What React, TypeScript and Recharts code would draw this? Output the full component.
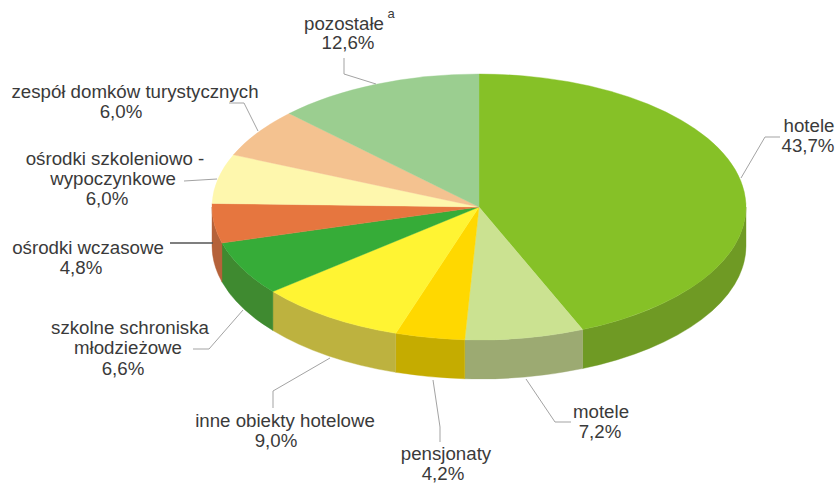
import React from "react";
import { PieChart, Pie } from "recharts";

const names = [
  "hotele",
  "motele",
  "pensjonaty",
  "inne obiekty hotelowe",
  "szkolne schroniska|młodzieżowe",
  "ośrodki wczasowe",
  "ośrodki szkoleniowo -|wypoczynkowe",
  "zespół domków turystycznych",
  "pozostałe",
];
const shares = [43.7, 7.2, 4.2, 9.0, 6.6, 4.8, 6.0, 6.0, 12.6];

const topColors = ["#86C127", "#CBE291", "#FFD800", "#FFF433", "#36AC38", "#E6763F", "#FEF7AD", "#F4C290", "#9BCE90"];
const sideColors = ["#6F9A24", "#9CAA72", "#C5AC00", "#BDB23F", "#3F8A30", "#B5623A", "#D8D08E", "#CFA478", "#82AE7A"];

// centre x and baseline y of every text row, per slice (name rows, then the percent)
const textRows: number[][][] = [
  [[809, 132], [808, 152]],
  [[601, 418], [600, 438]],
  [[446, 460], [443, 480]],
  [[285, 427], [276, 447]],
  [[130, 334], [128, 354], [123, 375]],
  [[88, 254], [81, 274]],
  [[115, 165], [113, 185], [107, 205]],
  [[135, 98], [121, 118]],
  [[344, 30], [348, 49]],
];
const leaders = [
  "741,178 765,137 780,137",
  "526,379 555,422 571,422",
  "433,380 440,427 440,442",
  "273,408 273,391 330,358",
  "193,349 209,349 243,310",
  "170,243 213,243",
  "184,181 217,179",
  "229,103 244,103 258,131",
  "344,58 344,74 376,84",
];

const CX = 479;
const CY = 207;
const RX = 267;
const RY = 133;
const DEPTH = 39;
const FONT = "'Liberation Sans', Arial, sans-serif";

const data = names.map((name, i) => ({ name, value: shares[i] }));

function pt(deg: number, dy = 0) {
  const a = (deg * Math.PI) / 180;
  return `${CX + RX * Math.cos(a)} ${CY + dy - RY * Math.sin(a)}`;
}

// squashes the circular sector the Pie computed into the tilted ellipse
function TopSlice(props: any) {
  const { startAngle, endAngle, index } = props;
  const large = startAngle - endAngle > 180 ? 1 : 0;
  const d = `M${CX} ${CY} L${pt(startAngle)} A${RX} ${RY} 0 ${large} 1 ${pt(endAngle)} Z`;
  return <path d={d} fill={topColors[index]} stroke={topColors[index]} strokeWidth={0.4} />;
}

// outer wall, only for the part of the slice on the near half of the ellipse
function SideSlice(props: any) {
  const { startAngle, endAngle, index } = props;
  const s = Math.min(startAngle, 0);
  const e = Math.max(endAngle, -180);
  if (s <= e) return <g />;
  const d =
    `M${pt(s)} A${RX} ${RY} 0 0 1 ${pt(e)} ` +
    `L${pt(e, DEPTH)} A${RX} ${RY} 0 0 0 ${pt(s, DEPTH)} Z`;
  return <path d={d} fill={sideColors[index]} stroke={sideColors[index]} strokeWidth={0.4} />;
}

function SliceLabel(props: any) {
  const { index } = props;
  const rows = [...names[index].split("|"), `${shares[index].toFixed(1).replace(".", ",")}%`];
  const dark = names[index] === "ośrodki wczasowe";
  return (
    <g>
      <polyline
        points={leaders[index]}
        fill="none"
        stroke={dark ? "#555555" : "#A3A3A3"}
        strokeWidth={dark ? 1.6 : 1}
      />
      {rows.map((row, r) => (
        <text
          key={r}
          x={textRows[index][r][0]}
          y={textRows[index][r][1]}
          textAnchor="middle"
          fontFamily={FONT}
          fontSize={18.7}
          fill="#3A3A3A"
        >
          {row}
        </text>
      ))}
      {names[index] === "pozostałe" && (
        <text x={391} y={18} textAnchor="middle" fontFamily={FONT} fontSize={13} fill="#3A3A3A">
          a
        </text>
      )}
    </g>
  );
}

export default function App() {
  return (
    <div style={{ position: "absolute", left: 0, top: 0, width: 837, height: 484, background: "#fff" }}>
      <PieChart width={837} height={484} margin={{ top: 0, right: 0, bottom: 0, left: 0 }}>
        <Pie
          data={data}
          dataKey="value"
          cx={CX}
          cy={CY}
          innerRadius={0}
          outerRadius={RX}
          startAngle={90}
          endAngle={-270}
          stroke="none"
          shape={SideSlice}
          isAnimationActive={false}
        />
        <Pie
          data={data}
          dataKey="value"
          cx={CX}
          cy={CY}
          innerRadius={0}
          outerRadius={RX}
          startAngle={90}
          endAngle={-270}
          stroke="none"
          shape={TopSlice}
          label={SliceLabel}
          labelLine={false}
          isAnimationActive={false}
        />
      </PieChart>
    </div>
  );
}
